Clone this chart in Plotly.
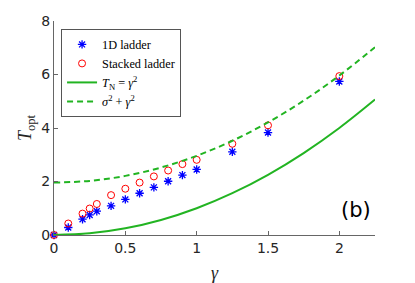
import plotly.graph_objects as go

gamma_pts = [0, 0.1, 0.2, 0.25, 0.3, 0.4, 0.5, 0.6, 0.7, 0.8, 0.9, 1.0, 1.25, 1.5, 2.0]
t_1d = [0, 0.28, 0.59, 0.75, 0.89, 1.09, 1.33, 1.56, 1.78, 2.01, 2.24, 2.45, 3.11, 3.83, 5.74]
t_stacked = [0, 0.43, 0.80, 0.99, 1.16, 1.49, 1.73, 1.96, 2.19, 2.41, 2.65, 2.81, 3.41, 4.10, 5.94]

gamma_curve = [0, 0.25, 0.5, 0.75, 1.0, 1.25, 1.5, 1.75, 2.0, 2.25]
t_n = [0, 0.0625, 0.25, 0.5625, 1.0, 1.5625, 2.25, 3.0625, 4.0, 5.0625]
t_sig = [1.96, 2.0225, 2.21, 2.5225, 2.96, 3.5225, 4.21, 5.0225, 5.96, 7.0225]

x_ticks = [0, 0.5, 1, 1.5, 2]
y_ticks = [0, 2, 4, 6, 8]

serif = "Liberation Serif, DejaVu Serif, serif"
sans = "DejaVu Sans, sans-serif"
green = "#22b422"
axis_grey = "#666"
text_grey = "#262626"

fig = go.Figure()
fig.add_trace(go.Scatter(x=gamma_pts, y=t_1d, mode="markers", name="1D ladder", cliponaxis=False,
                         marker=dict(symbol="asterisk-open", size=7, color="blue",
                                     line=dict(color="blue", width=1.3))))
fig.add_trace(go.Scatter(x=gamma_pts, y=t_stacked, mode="markers", name="Stacked ladder", cliponaxis=False,
                         marker=dict(symbol="circle-open", size=7, color="red",
                                     line=dict(color="red", width=1))))
fig.add_trace(go.Scatter(x=gamma_curve, y=t_n, mode="lines", line_shape="spline",
                         name="<i>T</i><sub>N</sub> = <i>γ</i><sup>2</sup>",
                         line=dict(color=green, width=2)))
fig.add_trace(go.Scatter(x=gamma_curve, y=t_sig, mode="lines", line_shape="spline",
                         name="<i>σ</i><sup>2</sup> + <i>γ</i><sup>2</sup>",
                         line=dict(color=green, width=2, dash="6px,4px")))

fig.add_annotation(x=0.994, y=0.05, xref="paper", yref="paper", text="(b)",
                   showarrow=False, xanchor="right", yanchor="bottom",
                   font=dict(family=sans, size=21, color="black"))

# page body has an 8px margin, so the figure is offset by 8px
fig.update_layout(
    width=407, height=275,
    margin=dict(l=46, r=40, t=13, b=48, autoexpand=False),
    paper_bgcolor="white", plot_bgcolor="white",
    showlegend=True,
    legend=dict(x=0.022, y=0.963, xanchor="left", yanchor="top",
                bgcolor="white", bordercolor="#555", borderwidth=1,
                font=dict(family=serif, size=12.3, color="black"),
                tracegroupgap=0, itemwidth=30),
    xaxis=dict(range=[0, 2.25], tickvals=x_ticks, ticktext=["0", "0.5", "1", "1.5", "2"],
               automargin=False,
               showgrid=False, zeroline=False, showline=True, linecolor=axis_grey, linewidth=1,
               ticks="inside", ticklen=4, tickcolor=axis_grey,
               tickfont=dict(family=sans, size=14, color=text_grey),
               title=dict(text="<i>γ</i>", font=dict(family=serif, size=18, color=text_grey), standoff=15)),
    yaxis=dict(range=[0, 8], tickvals=y_ticks, automargin=False,
               showgrid=False, zeroline=False, showline=True, linecolor=axis_grey, linewidth=1,
               ticks="inside", ticklen=4, tickcolor=axis_grey,
               tickfont=dict(family=sans, size=14, color=text_grey),
               title=dict(text="<i>T</i><sub>opt</sub>", font=dict(family=serif, size=18, color=text_grey), standoff=4)),
)

fig.write_html("out.html")
